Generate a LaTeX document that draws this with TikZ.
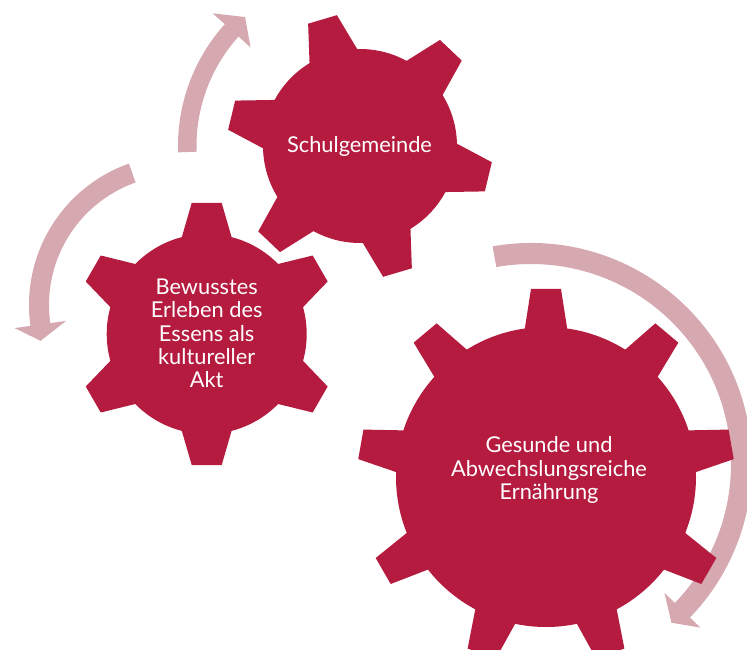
\documentclass[tikz,border=0pt]{standalone}
\usepackage{fontspec}
\setmainfont{Lato}
\definecolor{gearred}{RGB}{180,27,63}
\definecolor{arrowpink}{RGB}{214,168,176}
\tikzset{
  geartext/.style={text=white, align=center, font=\fontsize{21.8}{23.3}\selectfont, inner sep=0pt},
  arrowfill/.style={fill=arrowpink, draw=none},
  gearfill/.style={fill=gearred, draw=none}
}
% #1 cx, #2 cy, #3 body radius, #4 outer radius, #5 teeth, #6 offset angle, #7 outer half width, #8 inner half width
\newcommand\mygear[8]{%
  \begin{scope}[shift={(#1,#2)}]
    \fill[gearfill] (0,0) circle[radius=#3];
    \foreach \k in {1,...,#5}{
      \fill[gearfill, rotate={#6+360/#5*\k}] ({#3-10},{-#8}) -- (#4,{-#7}) -- (#4,#7) -- ({#3-10},#8) -- cycle;
    }
  \end{scope}}
\begin{document}
\begin{tikzpicture}[x=1pt,y=1pt]
\useasboundingbox (0,0) rectangle (747,649);
% arrows
\begin{scope}[shift={(360,503)}]
  \fill[arrowfill] (182:182) arc[start angle=182, end angle=138, radius=182]
    -- (138:198.25) -- (131.7:172.75) -- (138:147.25) -- (138:163.5)
    arc[start angle=138, end angle=182, radius=163.5] -- cycle;
\end{scope}
\begin{scope}[shift={(179,344)}]
  \fill[arrowfill] (109.5:150) arc[start angle=109.5, end angle=188, radius=150]
    -- (188:166) -- (194.5:143) -- (188:114) -- (188:130)
    arc[start angle=188, end angle=109.5, radius=130] -- cycle;
\end{scope}
\begin{scope}[shift={(531,185)}]
  \fill[arrowfill] (100:221) arc[start angle=100, end angle=-44, radius=221]
    -- (-44:235.5) -- (-48.5:212) -- (-44:185.5) -- (-44:200)
    arc[start angle=-44, end angle=100, radius=200] -- cycle;
\end{scope}
% gears
\mygear{360}{503}{97}{132}{6}{-13.5}{15}{26.6}
\mygear{206.7}{315}{100}{131}{6}{30}{15}{26.9}
\mygear{546}{172}{150}{188}{9}{90}{15}{22.5}
% texts
\node[geartext] (g1) at (359.5,503) {Schulgemeinde};
\node[geartext] (g2) at (206.7,315.7) {Bewusstes\\Erleben des\\Essens als\\kultureller\\Akt};
\node[geartext] (g3) at (549,179) {Gesunde und\\Abwechslungsreiche\\Ernährung};
\end{tikzpicture}
\end{document}
